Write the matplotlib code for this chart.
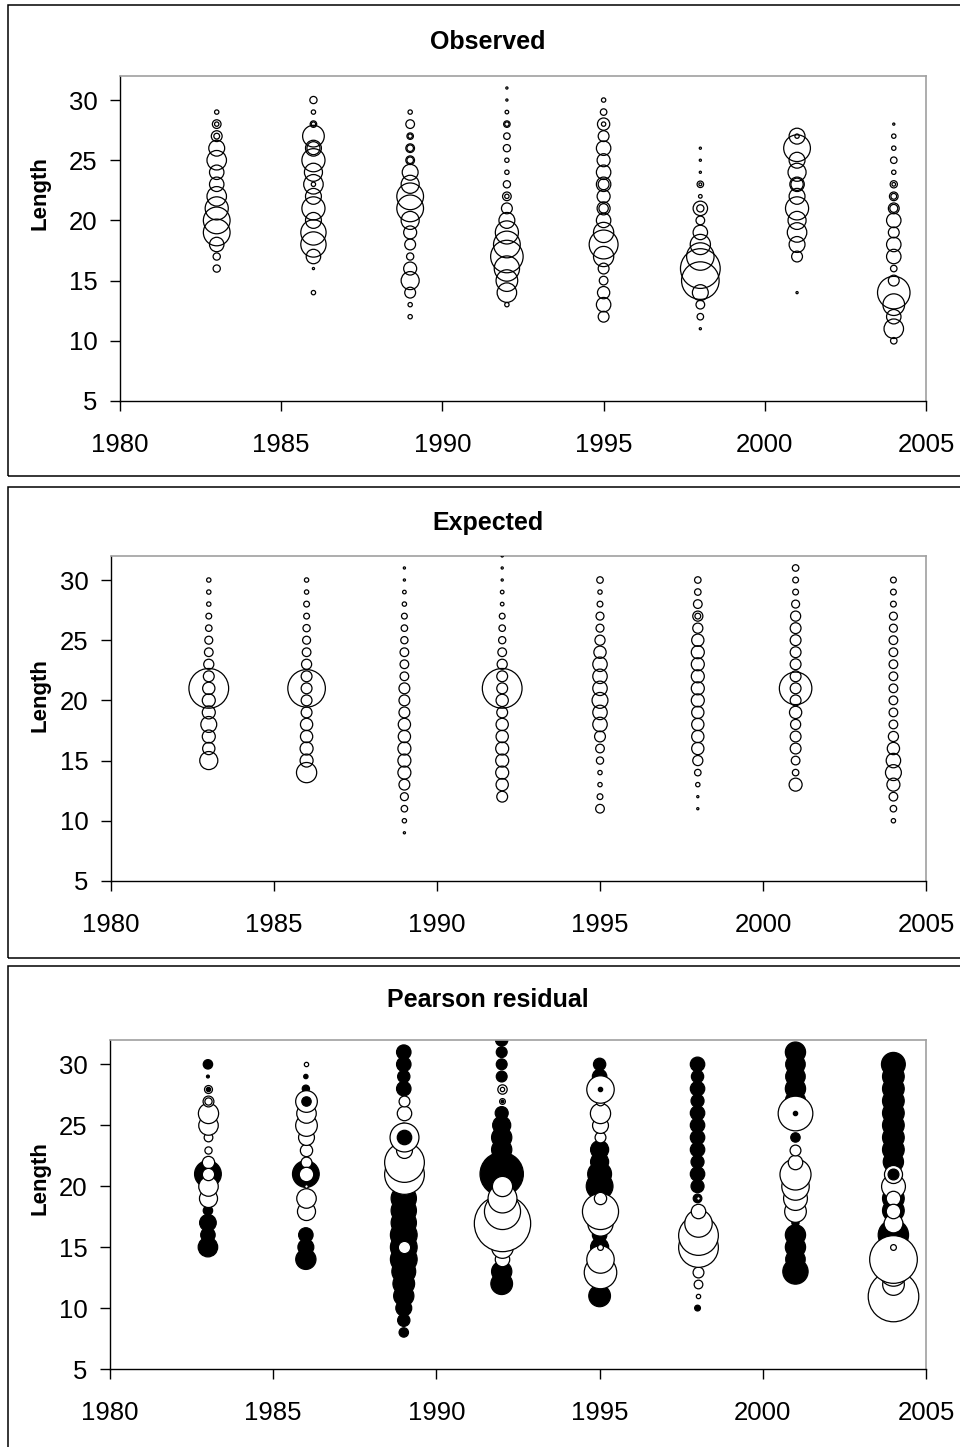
import matplotlib
matplotlib.use('Agg')
import matplotlib.pyplot as plt
from matplotlib.patches import Rectangle

plt.rcParams['font.family'] = ['Liberation Sans', 'DejaVu Sans']

# sampling years (one bubble column per year)
years = [1983, 1986, 1989, 1992, 1995, 1998, 2001, 2004]

# observed: first length class of each column, then values going up by 1 cm
obs_start = [16, 14, 12, 13, 12, 11, 14, 10]
observed = [
    [10, 10, 20, 37, 37, 32, 27, 20, 20, 27, 22, 15, 12, 6],
    [6, 0, 3, 20, 35, 35, 22, 32, 22, 27, 25, 32, 22, 30, 9, 6, 10],
    [6, 6, 15, 25, 18, 10, 15, 18, 25, 37, 37, 25, 22, 12, 12, 9, 12, 6],
    [6, 27, 30, 35, 45, 37, 32, 22, 15, 12, 10, 6, 6, 10, 9, 9, 5, 3, 3],
    [15, 20, 17, 12, 15, 28, 40, 28, 20, 18, 18, 20, 20, 18, 20, 15, 17, 9, 6],
    [3, 9, 12, 22, 52, 55, 38, 28, 20, 12, 20, 5, 9, 3, 3, 3],
    [3, 0, 0, 15, 22, 27, 25, 32, 22, 20, 25, 22, 37, 22],
    [9, 27, 20, 30, 45, 15, 9, 20, 20, 15, 20, 15, 12, 10, 6, 9, 6, 6, 3],
]
# second records at the same length (year, length, value)
obs_extra = [(1983, 28, 6), (1983, 27, 8), (1986, 23, 6), (1986, 26, 18),
             (1986, 28, 6), (1989, 25, 9), (1989, 26, 9), (1989, 27, 6),
             (1992, 22, 6), (1992, 28, 6), (1995, 28, 6), (1995, 23, 15),
             (1995, 21, 13), (1998, 21, 10), (1998, 23, 4), (2001, 27, 6),
             (2001, 23, 17), (2004, 21, 11), (2004, 22, 8), (2004, 23, 5)]

exp_start = [15, 14, 9, 12, 11, 11, 13, 10]
expected = [
    [25, 17, 18, 22, 18, 18, 55, 15, 14, 12, 11, 9, 8, 6, 6, 6],
    [28, 18, 18, 17, 17, 15, 15, 52, 15, 14, 12, 11, 10, 8, 8, 6, 6],
    [3, 6, 9, 11, 15, 18, 18, 18, 17, 17, 15, 15, 15, 12, 12, 12, 10, 9, 8, 6, 5, 3, 3],
    [15, 17, 18, 18, 18, 17, 17, 15, 17, 55, 15, 14, 12, 10, 9, 8, 5, 5, 3, 3, 3],
    [12, 8, 6, 6, 10, 12, 15, 20, 20, 22, 20, 20, 20, 17, 14, 11, 11, 8, 6, 9],
    [3, 3, 6, 9, 14, 17, 17, 17, 17, 18, 18, 18, 18, 18, 17, 14, 14, 12, 9, 9],
    [18, 9, 12, 15, 15, 14, 17, 15, 45, 15, 15, 15, 15, 15, 14, 11, 8, 8, 9],
    [6, 9, 12, 18, 22, 20, 17, 14, 12, 12, 12, 12, 12, 12, 12, 12, 11, 11, 8, 8, 8],
]
exp_extra = [(1983, 21, 17), (1986, 21, 15), (1992, 21, 15), (1998, 27, 8),
             (2001, 21, 15)]

# pearson residuals x10, negative ones drawn black
res_start = [15, 14, 8, 12, 11, 10, 13, 11]
residual = [
    [-27, -20, -23, -13, 25, 27, -37, 17, 10, 12, 27, 28, 15, 11, -4, -13],
    [-28, -22, -20, 0, 25, 27, 5, -37, 15, 17, 22, 30, 27, 30, -10, -6, 6],
    [-13, -17, -22, -28, -30, -33, -37, -37, -37, -35, -35, -35, 25, 55, 55,
     22, 40, -6, 20, 15, -20, -17, -20, -20],
    [-30, -28, 20, 30, 40, 78, 50, 40, 28, -60, -30, -28, -28, -25, -18, 8,
     13, -15, -15, -15, -17],
    [-30, 0, 45, 38, -25, -20, 35, 50, 17, -37, -33, -25, -25, 15, 22, 28,
     12, 38, -20, -17],
    [-8, 6, 12, 15, 20, 55, 55, 38, 20, -12, -18, -20, -18, -20, -20, -20,
     -20, -18, -20, -17, -20],
    [-35, -27, -28, -28, -10, 30, 33, 38, 43, 20, 15, -13, 8, 48, -28, -28,
     -27, -27, -28],
    [70, 30, 38, 66, 8, -42, 26, -30, -30, 33, 25, -28, -30, -30, -30, -30,
     -30, -30, -30, -33],
]
res_extra = [(1983, 21, 17), (1983, 27, 10), (1983, 28, -6), (1986, 21, 20),
             (1986, 27, -13), (1989, 15, 17), (1989, 24, -20), (1992, 27, -4),
             (1992, 28, 6), (1995, 15, 8), (1995, 28, -6), (1998, 19, 5),
             (2001, 26, -6), (2004, 21, -15), (2004, 19, 20), (2004, 18, 20)]

SCALE = 0.52  # bubble diameter in points per unit of value
LW = 0.9


def size(v):
    return (SCALE * abs(v)) ** 2


def draw_bubbles(ax, starts, values, extra, open_face='none'):
    fx, fy, fs = [], [], []
    ox, oy, os_ = [], [], []
    for yr, st, vals in zip(years, starts, values):
        for i, v in enumerate(vals):
            if v == 0:
                continue
            if v < 0:
                fx.append(yr); fy.append(st + i); fs.append(size(v))
            else:
                ox.append(yr); oy.append(st + i); os_.append(size(v))
    if fx:
        ax.scatter(fx, fy, s=fs, facecolor='black', edgecolor='black',
                   linewidth=LW, zorder=2)
    for x, y, s in zip(ox, oy, os_):
        ax.scatter([x], [y], s=[s], facecolor=open_face, edgecolor='black',
                   linewidth=LW, zorder=3)
    for yr, ln, v in extra:
        face = 'black' if v < 0 else open_face
        ax.scatter([yr], [ln], s=[size(v)], facecolor=face,
                   edgecolor='black', linewidth=LW, zorder=4)


fig = plt.figure(figsize=(9.6, 14.47), dpi=100)

panels = [
    ('Observed', [0.125, 0.7229, 0.8396, 0.2246], 0.971, 0.8666,
     (0.671, 0.3255), obs_start, observed, obs_extra, 'none'),
    ('Expected', [0.1156, 0.3912, 0.849, 0.2246], 0.6386, 0.5197,
     (0.338, 0.3255), exp_start, expected, exp_extra, 'none'),
    ('Pearson residual', [0.1146, 0.0539, 0.85, 0.2274], 0.309, 0.1859,
     (-0.5, 0.8324), res_start, residual, res_extra, 'white'),
]

for title, rect, ty, ly, frame, st, vals, extra, face in panels:
    fig.patches.append(Rectangle((0.0083, frame[0]), 1.5, frame[1],
                                 transform=fig.transFigure, fill=False,
                                 edgecolor='black', linewidth=1.1))
    ax = fig.add_axes(rect)
    draw_bubbles(ax, st, vals, extra, face)
    ax.set_xlim(1980, 2005)
    ax.set_ylim(5, 32)
    ax.set_xticks(range(1980, 2006, 5))
    ax.set_yticks(range(5, 31, 5))
    ax.tick_params(axis='both', direction='out', length=7, width=1,
                   labelsize=18.5)
    ax.tick_params(axis='x', pad=16)
    ax.tick_params(axis='y', pad=9)
    for side in ['top', 'right']:
        ax.spines[side].set_color('#a0a0a0')
        ax.spines[side].set_linewidth(1.2)
    for side in ['left', 'bottom']:
        ax.spines[side].set_color('black')
        ax.spines[side].set_linewidth(1.0)
    fig.text(0.508, ty, title, ha='center', va='center', fontsize=18,
             fontweight='bold')
    fig.text(0.0417, ly, 'Length', ha='center', va='center', rotation=90,
             fontsize=16, fontweight='bold')

fig.savefig('out.png', dpi=100)
